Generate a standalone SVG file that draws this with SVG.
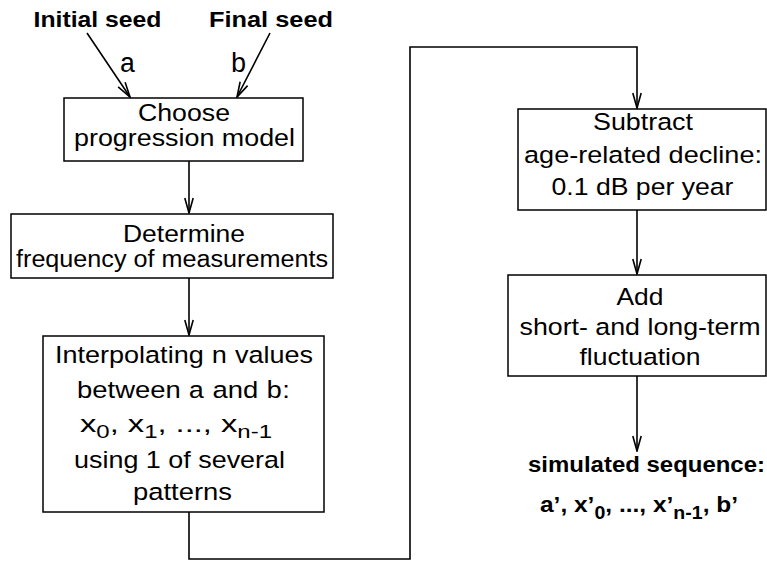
<svg xmlns="http://www.w3.org/2000/svg" width="767" height="563" viewBox="0 0 767 563">
  <style>
    .box { fill: #fff; stroke: #000; stroke-width: 1.5; }
    .t { font-family: "Liberation Sans", Arial, Helvetica, sans-serif; font-size: 24.5px; text-anchor: middle; fill: #000; }
    .tight { font-size: 23px; }
    .bold { font-weight: bold; font-size: 22.5px; }
    .mono { font-family: "Liberation Mono", "Courier New", monospace; }
    .label { font-size: 27px; }
    .sub { font-size: 18px; }
    .wire { fill: none; stroke: #000; stroke-width: 1.6; }
  </style>
  <defs>
    <marker id="arrow" viewBox="-16 -6 17 12" refX="0" refY="0" markerWidth="17" markerHeight="12" markerUnits="userSpaceOnUse" orient="auto">
      <path d="M-15,-4.2 L0,0 L-15,4.2" fill="none" stroke="#000" stroke-width="1.6"/>
    </marker>
  </defs>

  <!-- inputs -->
  <g id="seed-initial">
    <text class="t bold" x="97.5" y="27" textLength="128" lengthAdjust="spacingAndGlyphs">Initial seed</text>
  </g>
  <g id="seed-final">
    <text class="t bold" x="271" y="27" textLength="124" lengthAdjust="spacingAndGlyphs">Final seed</text>
  </g>

  <!-- connectors -->
  <g id="connectors">
    <line class="wire" x1="87" y1="33" x2="130" y2="97" marker-end="url(#arrow)"/>
    <line class="wire" x1="270" y1="33" x2="237" y2="97" marker-end="url(#arrow)"/>
    <line class="wire" x1="189" y1="161" x2="189" y2="213" marker-end="url(#arrow)"/>
    <line class="wire" x1="189" y1="278" x2="189" y2="335" marker-end="url(#arrow)"/>
    <polyline class="wire" points="189,512 189,559 410,559 410,47 637,47 637,108" stroke-width="1.4" marker-end="url(#arrow)"/>
    <line class="wire" x1="637" y1="210" x2="637" y2="274" marker-end="url(#arrow)"/>
    <line class="wire" x1="637" y1="376" x2="637" y2="451" marker-end="url(#arrow)"/>
    <text class="t mono label" x="127.5" y="72">a</text>
    <text class="t mono label" x="238.5" y="72">b</text>
  </g>

  <!-- process steps -->
  <g id="choose-model">
    <rect class="box" x="64" y="98" width="239" height="63"/>
    <text class="t tight" x="184" y="121" textLength="92" lengthAdjust="spacingAndGlyphs">Choose</text>
    <text class="t tight" x="184.5" y="146" textLength="221" lengthAdjust="spacingAndGlyphs">progression model</text>
  </g>

  <g id="measurement-frequency">
    <rect class="box" x="11" y="214" width="322" height="64"/>
    <text class="t tight" x="184" y="242" textLength="122" lengthAdjust="spacingAndGlyphs">Determine</text>
    <text class="t tight" x="172" y="267" textLength="312" lengthAdjust="spacingAndGlyphs">frequency of measurements</text>
  </g>

  <g id="interpolation">
    <rect class="box" x="43" y="336" width="281" height="176"/>
    <text class="t" x="184" y="363" textLength="258" lengthAdjust="spacingAndGlyphs">Interpolating <tspan class="mono">n</tspan> values</text>
    <text class="t" x="183.5" y="398" textLength="213" lengthAdjust="spacingAndGlyphs">between <tspan class="mono">a</tspan> and <tspan class="mono">b</tspan>:</text>
    <text class="t" x="176" y="431.5" textLength="192" lengthAdjust="spacingAndGlyphs">x<tspan class="sub" dy="6.5">0</tspan><tspan dy="-6.5">, x</tspan><tspan class="sub" dy="6.5">1</tspan><tspan dy="-6.5">, ..., x</tspan><tspan class="sub" dy="6.5">n-1</tspan></text>
    <text class="t" x="179.5" y="468" textLength="211" lengthAdjust="spacingAndGlyphs">using 1 of several</text>
    <text class="t" x="182.5" y="500" textLength="99" lengthAdjust="spacingAndGlyphs">patterns</text>
  </g>

  <g id="age-decline">
    <rect class="box" x="518" y="109" width="248" height="101"/>
    <text class="t" x="643" y="130" textLength="100" lengthAdjust="spacingAndGlyphs">Subtract</text>
    <text class="t" x="643" y="163" textLength="238" lengthAdjust="spacingAndGlyphs">age-related decline:</text>
    <text class="t" x="642.5" y="195" textLength="182" lengthAdjust="spacingAndGlyphs">0.1 dB per year</text>
  </g>

  <g id="add-fluctuation">
    <rect class="box" x="508" y="275" width="258" height="101"/>
    <text class="t" x="640" y="305" textLength="47" lengthAdjust="spacingAndGlyphs">Add</text>
    <text class="t" x="640" y="335" textLength="241" lengthAdjust="spacingAndGlyphs">short- and long-term</text>
    <text class="t" x="640" y="365" textLength="121" lengthAdjust="spacingAndGlyphs">fluctuation</text>
  </g>

  <!-- result -->
  <g id="simulated-sequence">
    <text class="t bold" x="646.5" y="472" textLength="237" lengthAdjust="spacingAndGlyphs">simulated sequence:</text>
    <text class="t bold" x="639" y="512" textLength="198" lengthAdjust="spacingAndGlyphs">a’, x’<tspan class="sub" dy="6.5">0</tspan><tspan dy="-6.5">, ..., x’</tspan><tspan class="sub" dy="6.5">n-1</tspan><tspan dy="-6.5">, b’</tspan></text>
  </g>
</svg>
